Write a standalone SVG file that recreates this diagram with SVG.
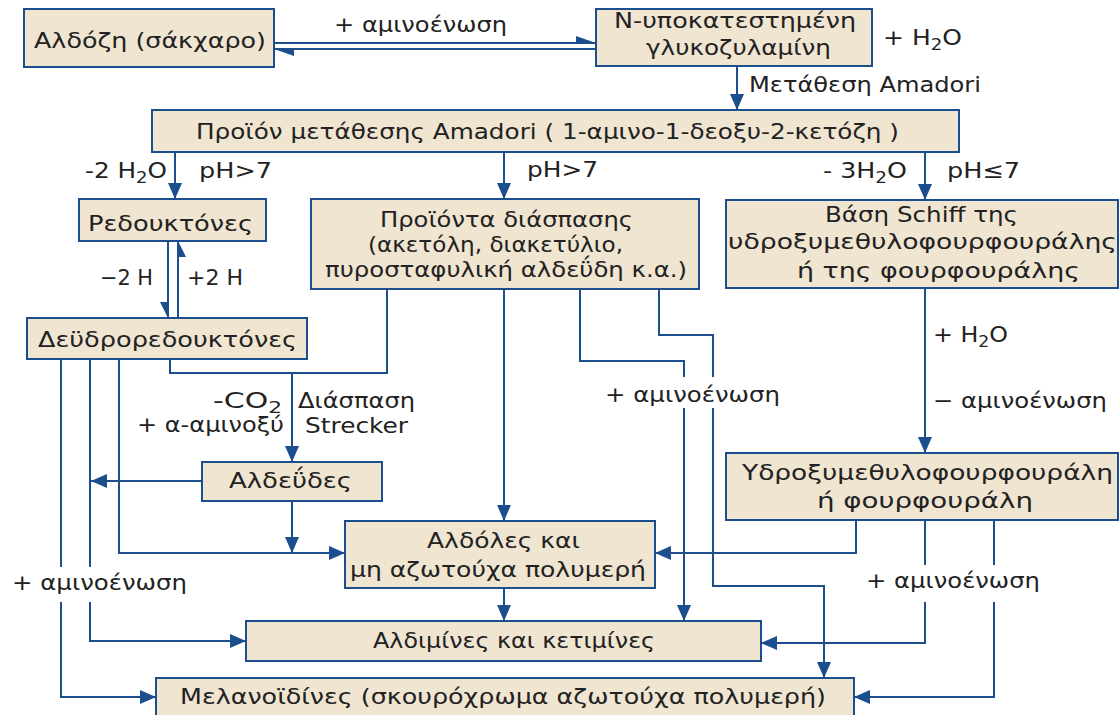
<svg xmlns="http://www.w3.org/2000/svg" width="1119" height="715" viewBox="0 0 1119 715">
<style>
.box{fill:#EFE5D1;stroke:#1B4E8D;stroke-width:2}
.ln{fill:none;stroke:#1B4E8D;stroke-width:2}
.arr{marker-end:url(#ah)}
.hd{fill:#1B4E8D;stroke:none}
text{font-family:"DejaVu Sans","Liberation Sans",sans-serif;font-size:22px;fill:#222}
.sub{font-size:16px}
</style>
<defs>
<marker id="ah" markerUnits="userSpaceOnUse" markerWidth="16" markerHeight="14" refX="16" refY="7" orient="auto">
<path d="M0,0 L16,7 L0,14 z" fill="#1B4E8D"/>
</marker>
</defs>
<rect width="1119" height="715" fill="#fff"/>
<g id="connectors">
<path class="ln" d="M274,43 H596"/>
<polygon class="hd" points="576,36 596,43 576,43"/>
<path class="ln" d="M596,49 H274"/>
<polygon class="hd" points="274,49 294,49 294,56"/>
<path class="ln arr" d="M737,66 V110"/>
<path class="ln arr" d="M175,152 V199"/>
<path class="ln arr" d="M504,152 V199"/>
<path class="ln arr" d="M925,152 V200"/>
<path class="ln" d="M168,241 V318"/>
<polygon class="hd" points="168,318 160,302 168,302"/>
<path class="ln" d="M178,318 V241"/>
<polygon class="hd" points="178,241 186,257 178,257"/>
<path class="ln" d="M170,359 V373 H387 V289"/>
<path class="ln arr" d="M292,373 V462"/>
<path class="ln arr" d="M202,481 H91"/>
<path class="ln arr" d="M292,501 V553"/>
<path class="ln arr" d="M119,359 V553 H345"/>
<path class="ln" d="M90,359 V567"/>
<path class="ln arr" d="M90,602 V641 H246"/>
<path class="ln" d="M61,359 V567"/>
<path class="ln arr" d="M61,602 V697 H156"/>
<path class="ln arr" d="M504,289 V521"/>
<path class="ln" d="M580,289 V361 H684 V377"/>
<path class="ln arr" d="M684,408 V621"/>
<path class="ln" d="M659,289 V335 H713 V377"/>
<path class="ln arr" d="M713,408 V586 H824 V678"/>
<path class="ln arr" d="M925,288 V453"/>
<path class="ln arr" d="M856,520 V553 H655"/>
<path class="ln" d="M925,520 V565"/>
<path class="ln arr" d="M925,602 V643 H761"/>
<path class="ln" d="M994,520 V565"/>
<path class="ln arr" d="M994,602 V697 H854"/>
<path class="ln arr" d="M504,588 V621"/>
</g>
<g id="labels">
<text x="334" y="32" textLength="173" lengthAdjust="spacingAndGlyphs">+ αμινοένωση</text>
<text x="883" y="45" textLength="79" lengthAdjust="spacingAndGlyphs">+ H<tspan class="sub" dy="5">2</tspan><tspan dy="-5">O</tspan></text>
<text x="749" y="92" textLength="232" lengthAdjust="spacingAndGlyphs">Μετάθεση Amadori</text>
<text x="85" y="178" textLength="82" lengthAdjust="spacingAndGlyphs">-2 H<tspan class="sub" dy="5">2</tspan><tspan dy="-5">O</tspan></text>
<text x="199" y="178" textLength="73" lengthAdjust="spacingAndGlyphs">pH&gt;7</text>
<text x="527" y="177" textLength="71" lengthAdjust="spacingAndGlyphs">pH&gt;7</text>
<text x="823" y="178" textLength="84" lengthAdjust="spacingAndGlyphs">- 3H<tspan class="sub" dy="5">2</tspan><tspan dy="-5">O</tspan></text>
<text x="947" y="178" textLength="73" lengthAdjust="spacingAndGlyphs">pH≤7</text>
<text x="100" y="285" textLength="53" lengthAdjust="spacingAndGlyphs">−2 H</text>
<text x="187" y="285" textLength="56" lengthAdjust="spacingAndGlyphs">+2 H</text>
<text x="213" y="408" textLength="69" lengthAdjust="spacingAndGlyphs">-CO<tspan class="sub" dy="5">2</tspan></text>
<text x="298" y="408" textLength="117" lengthAdjust="spacingAndGlyphs">Διάσπαση</text>
<text x="137" y="432" textLength="147" lengthAdjust="spacingAndGlyphs">+ α-αμινοξύ</text>
<text x="305" y="433" textLength="103" lengthAdjust="spacingAndGlyphs">Strecker</text>
<text x="605" y="402" textLength="175" lengthAdjust="spacingAndGlyphs">+ αμινοένωση</text>
<text x="933" y="342" textLength="75" lengthAdjust="spacingAndGlyphs">+ H<tspan class="sub" dy="5">2</tspan><tspan dy="-5">O</tspan></text>
<text x="933" y="408" textLength="174" lengthAdjust="spacingAndGlyphs">− αμινοένωση</text>
<text x="12" y="590" textLength="175" lengthAdjust="spacingAndGlyphs">+ αμινοένωση</text>
<text x="866" y="588" textLength="174" lengthAdjust="spacingAndGlyphs">+ αμινοένωση</text>
</g>
<g id="n-aldose"><rect class="box" x="24" y="9" width="250" height="58"/>
<text x="34" y="48" textLength="232" lengthAdjust="spacingAndGlyphs">Αλδόζη (σάκχαρο)</text></g>
<g id="n-glycosylamine"><rect class="box" x="596" y="9" width="276" height="57"/>
<text x="614" y="28" textLength="242" lengthAdjust="spacingAndGlyphs">N-υποκατεστημένη</text>
<text x="646" y="55" textLength="185" lengthAdjust="spacingAndGlyphs">γλυκοζυλαμίνη</text></g>
<g id="n-amadori"><rect class="box" x="152" y="110" width="807" height="42"/>
<text x="196" y="139" textLength="703" lengthAdjust="spacingAndGlyphs">Προϊόν μετάθεσης Amadori ( 1-αμινο-1-δεοξυ-2-κετόζη )</text></g>
<g id="n-reductones"><rect class="box" x="79" y="199" width="187" height="42"/>
<text x="88" y="231" textLength="165" lengthAdjust="spacingAndGlyphs">Ρεδουκτόνες</text></g>
<g id="n-fission"><rect class="box" x="311" y="199" width="388" height="90"/>
<text x="380" y="227" textLength="253" lengthAdjust="spacingAndGlyphs">Προϊόντα διάσπασης</text>
<text x="368" y="252" textLength="255" lengthAdjust="spacingAndGlyphs">(ακετόλη, διακετύλιο,</text>
<text x="325" y="277" textLength="362" lengthAdjust="spacingAndGlyphs">πυροσταφυλική αλδεΰδη κ.α.)</text></g>
<g id="n-schiff"><rect class="box" x="726" y="200" width="392" height="88"/>
<text x="825" y="222" textLength="193" lengthAdjust="spacingAndGlyphs">Βάση Schiff της</text>
<text x="728" y="249" textLength="389" lengthAdjust="spacingAndGlyphs">υδροξυμεθυλοφουρφουράλης</text>
<text x="797" y="278" textLength="283" lengthAdjust="spacingAndGlyphs">ή της  φουρφουράλης</text></g>
<g id="n-dehydroreductones"><rect class="box" x="27" y="318" width="280" height="41"/>
<text x="38" y="347" textLength="259" lengthAdjust="spacingAndGlyphs">Δεϋδρορεδουκτόνες</text></g>
<g id="n-aldehydes"><rect class="box" x="202" y="462" width="180" height="39"/>
<text x="229" y="488" textLength="123" lengthAdjust="spacingAndGlyphs">Αλδεΰδες</text></g>
<g id="n-aldols"><rect class="box" x="345" y="521" width="310" height="67"/>
<text x="427" y="548" textLength="153" lengthAdjust="spacingAndGlyphs">Αλδόλες και</text>
<text x="350" y="577" textLength="296" lengthAdjust="spacingAndGlyphs">μη αζωτούχα πολυμερή</text></g>
<g id="n-hmf"><rect class="box" x="726" y="453" width="392" height="67"/>
<text x="742" y="480" textLength="371" lengthAdjust="spacingAndGlyphs">Υδροξυμεθυλοφουρφουράλη</text>
<text x="817" y="508" textLength="216" lengthAdjust="spacingAndGlyphs">ή  φουρφουράλη</text></g>
<g id="n-aldimines"><rect class="box" x="246" y="621" width="515" height="40"/>
<text x="373" y="648" textLength="282" lengthAdjust="spacingAndGlyphs">Αλδιμίνες και κετιμίνες</text></g>
<g id="n-melanoidins"><rect class="box" x="156" y="678" width="698" height="42"/>
<text x="180" y="704" textLength="646" lengthAdjust="spacingAndGlyphs">Μελανοϊδίνες (σκουρόχρωμα αζωτούχα πολυμερή)</text></g>
</svg>
